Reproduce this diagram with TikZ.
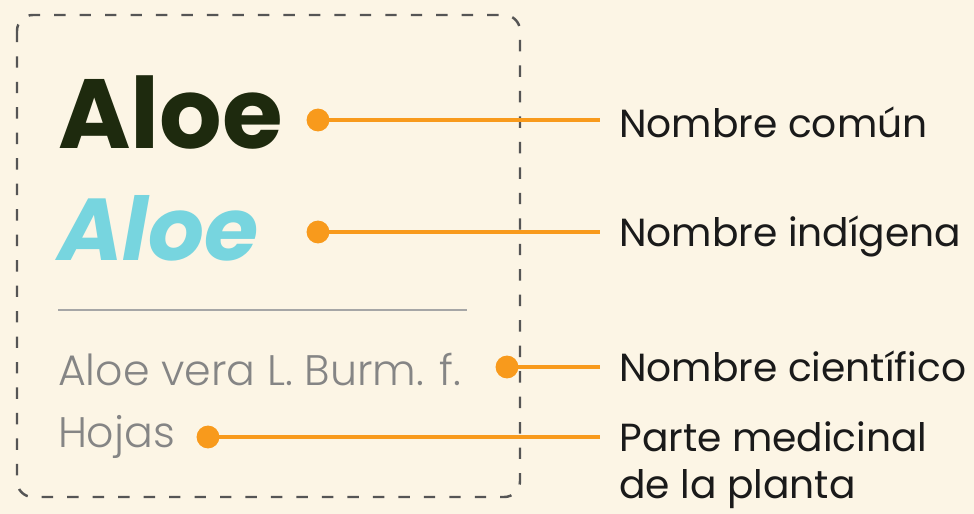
\documentclass[tikz,border=0pt]{standalone}
\usepackage{fontspec}
\setmainfont{Poppins}
\newfontfamily\poplight{Poppins Light}
\usetikzlibrary{positioning}

\definecolor{paper}{HTML}{FCF5E5}
\definecolor{marker}{HTML}{F89A1C}
\definecolor{darkname}{HTML}{1E2A0E}
\definecolor{cyanname}{HTML}{77D5DF}
\definecolor{sciname}{HTML}{858585}
\definecolor{frameline}{HTML}{555555}
\definecolor{labeltext}{HTML}{1A1A1A}

\begin{document}
\begin{tikzpicture}[x=0.02cm, y=-0.02cm,
    every node/.style={inner sep=0pt, outer sep=0pt},
    dot/.style={circle, fill=marker, minimum size=13pt},
    link/.style={draw=marker, line width=2.8pt},
    caption/.style={anchor=west, inner xsep=11pt, text=labeltext, font=\fontsize{22.3}{26.5}\selectfont, align=left}]
  \fill[paper] (0,0) rectangle (974,514);
  \useasboundingbox (0,0) rectangle (974,514);

  % Frame
  \draw[frameline, line width=1.4pt, dash pattern=on 6.5pt off 8pt, rounded corners=9pt] (17,15) rectangle (520,497);
  \draw[gray!70, line width=1.2pt] (58,310) -- (467,310);

  % Nodes
  \node[anchor=base west, text=darkname, font=\fontsize{56}{60}\selectfont\bfseries] (comun) at (58,148) {Aloe};
  \node[anchor=base west, text=cyanname, font=\fontsize{50}{56}\selectfont\bfseries\itshape] (indig) at (58,260) {Aloe};
  \node[anchor=base west, text=sciname, font=\fontsize{24.3}{26}\selectfont\poplight] (cient) at (58,385) {Aloe vera L. Burm. f.};
  \node[anchor=base west, text=sciname, font=\fontsize{24.3}{26}\selectfont\poplight] (hojas) at (58,447) {Hojas};

  \node[dot] (d1) at (318,120) {};
  \node[dot] (d2) at (318,232) {};
  \node[dot] (d3) at (507,367) {};
  \node[dot] (d4) at (208,437) {};

  \node[caption] (l1) at (600,122) {Nombre común};
  \node[caption] (l2) at (600,236) {Nombre indígena};
  \node[caption] (l3) at (600,366) {Nombre científico};
  \node[caption, anchor=north west] (l4) at (600,422) {Parte medicinal\\de la planta};

  % Edges
  \draw[link] (d1) -- (d1 -| l1.west);
  \draw[link] (d2) -- (d2 -| l2.west);
  \draw[link] (d3) -- (d3 -| l3.west);
  \draw[link] (d4) -- (d4 -| l4.west);
\end{tikzpicture}
\end{document}
